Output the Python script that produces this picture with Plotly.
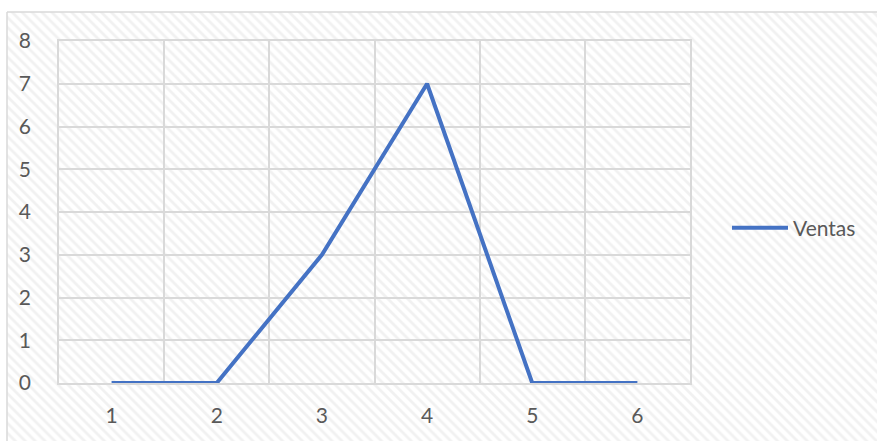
import plotly.graph_objects as go

# Sales per period
periods = [1, 2, 3, 4, 5, 6]
ventas = [0, 0, 3, 7, 0, 0]
y_ticks = [0, 1, 2, 3, 4, 5, 6, 7, 8]

W, H = 877, 441
GRID = "#d9d9d9"
TEXT = "#595959"
LINE = "#4472C4"
FONT = "Lato, Carlito, Calibri, sans-serif"
FS = 21

fig = go.Figure()

# Hatched chart-area background with a thin border (pixel-coordinate canvas)
fig.add_trace(go.Scatter(
    x=[7, W + 10, W + 10, 7, 7],
    y=[12, 12, H + 10, H + 10, 12],
    mode="lines",
    fill="toself",
    fillcolor="white",
    fillpattern=dict(shape="\\", size=7, solidity=0.4,
                     fgcolor="#e4e4e4", bgcolor="white"),
    line=dict(color=GRID, width=1.5),
    hoverinfo="skip",
    showlegend=False,
    xaxis="x", yaxis="y",
))

# Sales line
fig.add_trace(go.Scatter(
    x=periods, y=ventas,
    mode="lines",
    name="Ventas",
    line=dict(color=LINE, width=4),
    xaxis="x2", yaxis="y2",
))

fig.update_layout(
    width=W, height=H,
    margin=dict(l=0, r=0, t=0, b=0, pad=0),
    paper_bgcolor="white",
    plot_bgcolor="rgba(0,0,0,0)",
    font=dict(family=FONT, size=FS, color=TEXT),
    xaxis=dict(domain=[0, 1], range=[0, W], visible=False, fixedrange=True,
               automargin=False),
    yaxis=dict(domain=[0, 1], range=[H, 0], visible=False, fixedrange=True,
               automargin=False),
    xaxis2=dict(
        domain=[59 / W, 690 / W], anchor="y2",
        range=[0.5, 6.5],
        tickmode="array", tickvals=periods, ticktext=[str(p) for p in periods],
        showgrid=False, zeroline=False,
        showline=True, linecolor=GRID, linewidth=1.5, mirror=True,
        minor=dict(tick0=0.5, dtick=1, showgrid=True, gridcolor=GRID, gridwidth=1.5),
        ticks="", ticklabelstandoff=13,
        tickfont=dict(family=FONT, size=FS, color=TEXT),
        automargin=False,
    ),
    yaxis2=dict(
        domain=[(H - 383) / H, (H - 41) / H], anchor="x2",
        range=[0, 8],
        tickmode="array", tickvals=y_ticks,
        showgrid=True, gridcolor=GRID, gridwidth=1.5, zeroline=False,
        showline=True, linecolor=GRID, linewidth=1.5, mirror=True,
        ticks="", ticklabelstandoff=22,
        tickfont=dict(family=FONT, size=FS, color=TEXT),
        automargin=False,
    ),
    legend=dict(
        x=727 / W, y=(H - 228) / H, xanchor="left", yanchor="middle",
        bgcolor="rgba(0,0,0,0)", itemwidth=56,
        font=dict(family=FONT, size=FS, color=TEXT),
    ),
    showlegend=True,
)

fig.write_html("out.html")
